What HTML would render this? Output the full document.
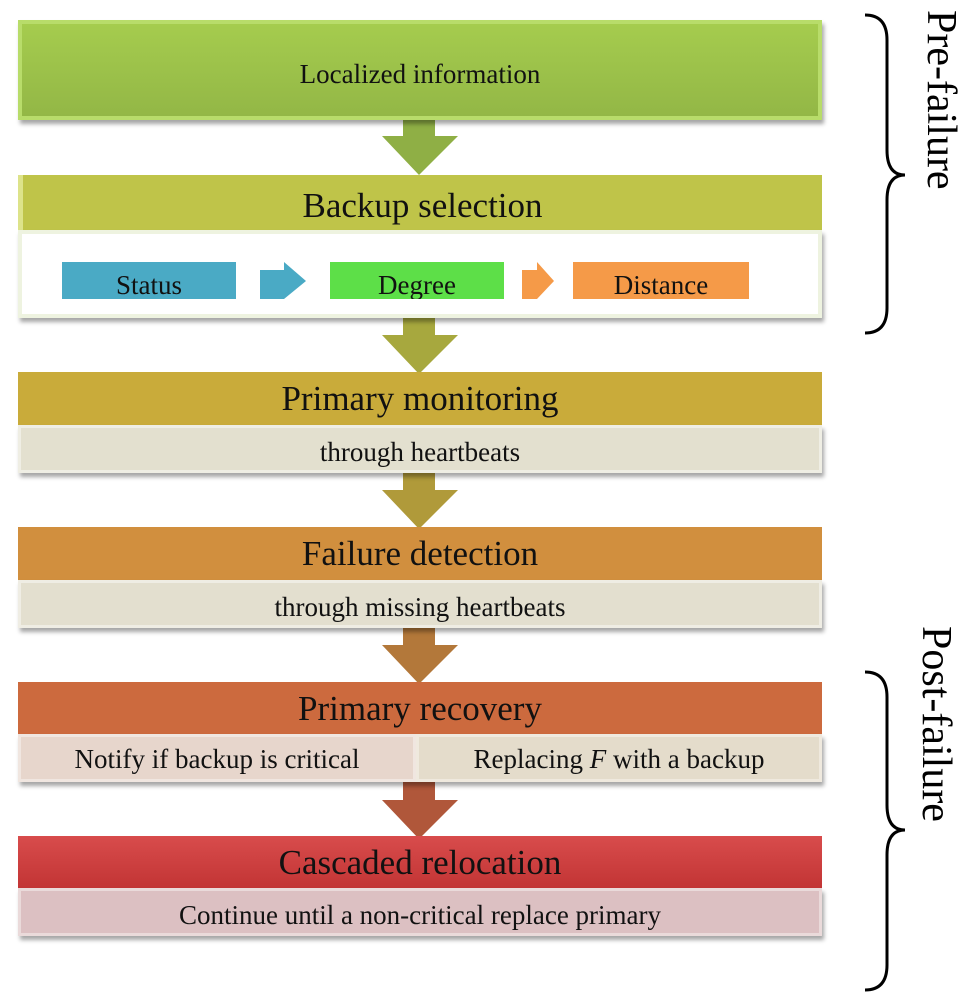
<!DOCTYPE html>
<html><head><style>
body{margin:0;width:971px;height:1000px;background:#fff;position:relative;overflow:hidden;font-family:"Liberation Serif",serif;}
.b{position:absolute;left:18px;width:804px;box-sizing:border-box;text-align:center;color:#111;box-shadow:2px 4px 4px rgba(0,0,0,.35);}
.h{font-size:35px;}
.s{font-size:27px;}
.rot{position:absolute;font-size:42px;transform:rotate(90deg);transform-origin:left top;white-space:nowrap;line-height:48px;}
.arr{position:absolute;left:380px;}
</style></head><body>
<svg class="arr" style="top:100px" width="80" height="76"><polygon points="23,0 55,0 55,36 78,36 39,75 2,36 23,36" fill="#8faf45"/></svg>
<svg class="arr" style="top:305px" width="80" height="70"><polygon points="23,0 55,0 55,30 78,30 39,69 2,30 23,30" fill="#a7a83e"/></svg>
<svg class="arr" style="top:460px" width="80" height="70"><polygon points="23,0 55,0 55,30 78,30 39,69 2,30 23,30" fill="#b09a3a"/></svg>
<svg class="arr" style="top:615px" width="80" height="70"><polygon points="23,0 55,0 55,30 78,30 39,69 2,30 23,30" fill="#b3783a"/></svg>
<svg class="arr" style="top:770px" width="80" height="70"><polygon points="23,0 55,0 55,30 78,30 39,69 2,30 23,30" fill="#b0573a"/></svg>

<div class="b s" style="top:20px;height:100px;line-height:100px;background:linear-gradient(#a5cc4e,#93b746);border:4px solid #b8dc6a;">Localized information</div>

<div class="b h" style="top:175px;height:56px;line-height:62px;background:#bfc449;box-shadow:none;border-left:5px solid #dde38a">Backup selection</div>
<div class="b" style="top:230px;height:88px;background:#fff;border:4px solid #eef3e0;">
  <div style="position:absolute;left:40px;top:28px;width:174px;height:37px;background:#4aaac5;font-size:27px;line-height:46px;text-align:center;overflow:hidden">Status</div>
  <svg style="position:absolute;left:238px;top:28px" width="50" height="37"><polygon points="0,8 24,8 24,0 46,19 24,37 0,37" fill="#4aaac5"/></svg>
  <div style="position:absolute;left:308px;top:28px;width:174px;height:37px;background:#5ddf48;font-size:27px;line-height:46px;overflow:hidden">Degree</div>
  <svg style="position:absolute;left:500px;top:28px" width="36" height="37"><polygon points="0,8 15,8 15,0 32,19 15,37 0,37" fill="#f59a48"/></svg>
  <div style="position:absolute;left:551px;top:28px;width:176px;height:37px;background:#f59a48;font-size:27px;line-height:46px;overflow:hidden">Distance</div>
</div>

<div class="b h" style="top:372px;height:54px;line-height:54px;background:#c9ab3a;box-shadow:none">Primary monitoring</div>
<div class="b s" style="top:425px;height:48px;line-height:48px;background:#e3e0cf;border:3px solid #efeee4">through heartbeats</div>

<div class="b h" style="top:527px;height:54px;line-height:54px;background:#d18f3e;box-shadow:none">Failure detection</div>
<div class="b s" style="top:580px;height:48px;line-height:48px;background:#e3dfcf;border:3px solid #efede4">through missing heartbeats</div>

<div class="b h" style="top:682px;height:53px;line-height:53px;background:#cc6a3e;box-shadow:none">Primary recovery</div>
<div class="b s" style="top:734px;height:48px;line-height:48px;background:#e7d6cc;">
  <div style="position:absolute;left:0;width:398px;top:0;height:48px;border:3px solid #f0e6e0;box-sizing:border-box;line-height:44px">Notify if backup is critical</div>
  <div style="position:absolute;left:398px;width:406px;top:0;height:48px;background:#e4dccb;border:3px solid #efe9de;box-sizing:border-box;line-height:44px">Replacing <i>F</i> with a backup</div>
</div>

<div class="b h" style="top:836px;height:53px;line-height:53px;background:linear-gradient(#d84c4c,#c23434);box-shadow:none">Cascaded relocation</div>
<div class="b s" style="top:888px;height:48px;line-height:48px;background:#dcc0c2;border:3px solid #eadada">Continue until a non-critical replace primary</div>

<svg style="position:absolute;left:860px;top:0" width="50" height="1000" fill="none" stroke="#000" stroke-width="3">
<path d="M865,15 q22,0 22,25 v110 q0,25 18,25 q-18,0 -18,25 v108 q0,25 -22,25" transform="translate(-860,0)"/>
<path d="M865,672 q22,0 22,25 v108 q0,25 18,25 q-18,0 -18,25 v110 q0,25 -22,25" transform="translate(-860,0)"/>
</svg>
<div class="rot" style="left:965px;top:10px">Pre-failure</div>
<div class="rot" style="left:960px;top:626px">Post-failure</div>
</body></html>
